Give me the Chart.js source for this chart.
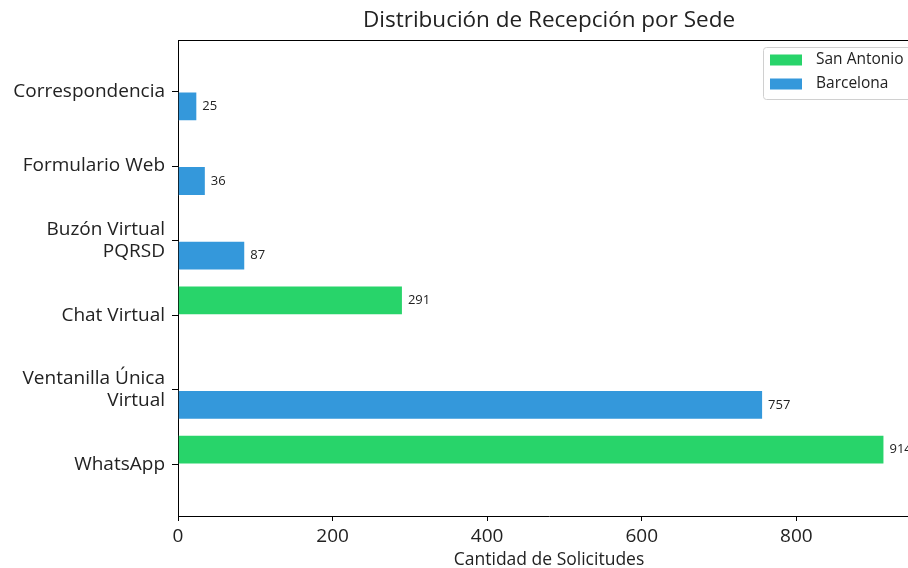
<!DOCTYPE html>
<html>
<head>
<meta charset="utf-8">
<script src="https://cdn.jsdelivr.net/npm/chart.js@4"></script>
<style>
  body { margin: 0; background: #fff; }
  #wrap { width: 908px; height: 568px; overflow: hidden; }
</style>
</head>
<body>
<div id="wrap"><canvas id="chart" width="925" height="568" style="width:925px;height:568px"></canvas></div>
<script>
// Datos
const canales = ['Correspondencia', 'Formulario Web', ['Buzón Virtual', 'PQRSD'], 'Chat Virtual', ['Ventanilla Única', 'Virtual'], 'WhatsApp'];
const sanAntonio = [0, 0, 0, 291, 0, 914];
const barcelona = [25, 36, 87, 0, 757, 0];
const xTicks = [0, 200, 400, 600, 800];
const titulo = 'Distribución de Recepción por Sede';

const FONT = "'Open Sans', sans-serif";
const toPoints = arr => arr.map((v, i) => ({ x: v === 0 ? null : v, y: i }));

// Etiquetas de valor al final de cada barra
const valueLabels = {
    id: 'valueLabels',
    afterDatasetsDraw(chart) {
        const { ctx } = chart;
        ctx.save();
        ctx.font = '13px ' + FONT;
        ctx.fillStyle = '#222';
        ctx.textBaseline = 'middle';
        chart.data.datasets.forEach((ds, di) => {
            chart.getDatasetMeta(di).data.forEach((bar, i) => {
                const v = ds.data[i].x;
                if (!v) return;
                ctx.fillText(v, bar.x + 5, bar.y);
            });
        });
        ctx.restore();
    }
};

// Título, marco superior/derecho y leyenda dentro del área
const frameLegend = {
    id: 'frameLegend',
    afterDraw(chart) {
        const { ctx, chartArea: { top, bottom, left, right } } = chart;
        ctx.save();
        ctx.fillStyle = '#222';
        ctx.font = '22.5px ' + FONT;
        ctx.textAlign = 'center';
        ctx.textBaseline = 'middle';
        ctx.fillText(titulo, (left + right) / 2, 21);

        ctx.strokeStyle = '#000';
        ctx.lineWidth = 1;
        ctx.beginPath();
        ctx.moveTo(left, top + 0.5);
        ctx.lineTo(right, top + 0.5);
        ctx.moveTo(right - 0.5, top);
        ctx.lineTo(right - 0.5, bottom);
        ctx.stroke();

        // leyenda
        const bx = 763.5, by = 47.5;
        ctx.fillStyle = 'rgba(255,255,255,0.8)';
        ctx.strokeStyle = '#d0d0d0';
        ctx.beginPath();
        ctx.roundRect(bx, by, 150, 52, 3);
        ctx.fill();
        ctx.stroke();
        ctx.font = '15.5px ' + FONT;
        ctx.textAlign = 'left';
        chart.data.datasets.forEach((ds, i) => {
            const cy = 60 + i * 24;
            ctx.fillStyle = ds.backgroundColor;
            ctx.fillRect(770, cy - 5.5, 32, 11);
            ctx.fillStyle = '#222';
            ctx.fillText(ds.label, 816, cy);
        });
        ctx.restore();
    }
};

new Chart(document.getElementById('chart'), {
    type: 'bar',
    data: {
        datasets: [{
            label: 'San Antonio',
            data: toPoints(sanAntonio),
            backgroundColor: '#28d46a',
            borderColor: 'rgba(255,255,255,0.35)',
            borderWidth: 1
        }, {
            label: 'Barcelona',
            data: toPoints(barcelona),
            backgroundColor: '#3498db',
            borderColor: 'rgba(255,255,255,0.35)',
            borderWidth: 1
        }]
    },
    options: {
        indexAxis: 'y',
        responsive: false,
        animation: false,
        categoryPercentage: 0.8,
        barPercentage: 1.0,
        layout: { padding: { left: 0, right: 5, top: 40, bottom: 0 } },
        plugins: {
            legend: { display: false },
            tooltip: { enabled: false },
            title: { display: false }
        },
        scales: {
            y: {
                type: 'linear',
                reverse: true,
                offset: false,
                min: -0.69,
                max: 5.69,
                afterBuildTicks: scale => { scale.ticks = canales.map((c, i) => ({ value: i })); },
                afterFit: scale => { scale.width = 178; },
                ticks: {
                    callback: v => canales[v],
                    color: '#222',
                    font: { family: FONT, size: 19, lineHeight: 1.15 },
                    padding: 7
                },
                grid: { offset: false, drawOnChartArea: false, drawTicks: true, tickLength: 6, color: '#000' },
                border: { color: '#000', width: 1 }
            },
            x: {
                type: 'linear',
                min: 0,
                max: 960,
                afterBuildTicks: scale => { scale.ticks = xTicks.map(v => ({ value: v })); },
                afterFit: scale => { scale.height = 52; },
                ticks: {
                    color: '#222',
                    font: { family: FONT, size: 19 },
                    padding: 4
                },
                grid: { drawOnChartArea: false, drawTicks: true, tickLength: 5, color: '#000' },
                border: { color: '#000', width: 1 },
                title: {
                    display: true,
                    text: 'Cantidad de Solicitudes',
                    color: '#222',
                    font: { family: FONT, size: 17.5 },
                    padding: { top: 0, bottom: -3 }
                }
            }
        }
    },
    plugins: [valueLabels, frameLegend]
});
</script>
</body>
</html>
